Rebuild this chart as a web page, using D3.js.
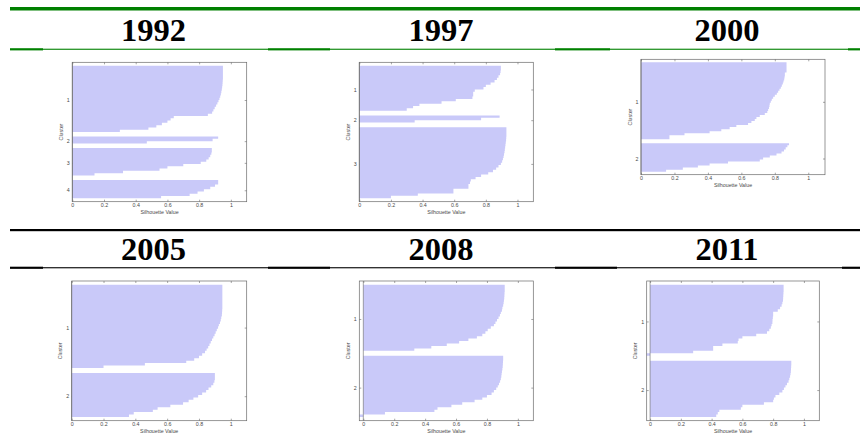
<!DOCTYPE html>
<html>
<head>
<meta charset="utf-8">
<script src="https://cdn.jsdelivr.net/npm/d3@7/dist/d3.min.js"></script>
<style>
  html, body { margin: 0; padding: 0; background: #fff; }
  svg { display: block; }
</style>
</head>
<body>
<svg id="chart" width="860" height="437"></svg>
<script>
// ---- Data: silhouette values per cluster, sorted from high to low ----
const years = ["1992", "1997", "2000", "2005", "2008", "2011"];

const sil1992 = [
  [0.95, 0.95, 0.95, 0.95, 0.95, 0.95, 0.949, 0.948, 0.947, 0.945, 0.943, 0.94, 0.937, 0.933, 0.928,
   0.922, 0.915, 0.907, 0.898, 0.89, 0.882, 0.855, 0.64, 0.62, 0.6, 0.565, 0.53, 0.48, 0.3],
  [0.92, 0.885, 0.47],
  [0.88, 0.88, 0.877, 0.87, 0.86, 0.845, 0.81, 0.70, 0.6, 0.55, 0.32, 0.14],
  [0.92, 0.92, 0.9, 0.87, 0.83, 0.79, 0.74, 0.56]
];

const sil1997 = [
  [0.895, 0.895, 0.893, 0.89, 0.88, 0.87, 0.855, 0.83, 0.8, 0.785, 0.73, 0.72, 0.72, 0.715, 0.61,
   0.52, 0.38, 0.34, 0.3],
  [0.887, 0.77, 0.35],
  [0.93, 0.93, 0.93, 0.93, 0.929, 0.928, 0.926, 0.924, 0.922, 0.92, 0.918, 0.915, 0.912, 0.908, 0.903,
   0.895, 0.88, 0.865, 0.845, 0.815, 0.77, 0.735, 0.705, 0.70, 0.69, 0.69, 0.595, 0.595, 0.37, 0.2]
];

const sil2000 = [
  [0.87, 0.87, 0.87, 0.87, 0.87, 0.86, 0.86, 0.858, 0.856, 0.852, 0.848, 0.842, 0.836, 0.828, 0.82,
   0.812, 0.8, 0.79, 0.782, 0.776, 0.77, 0.768, 0.765, 0.76, 0.755, 0.74, 0.71, 0.69, 0.68, 0.66,
   0.64, 0.57, 0.53, 0.48, 0.41, 0.26, 0.17, 0.17],
  [0.885, 0.875, 0.865, 0.855, 0.84, 0.81, 0.77, 0.73, 0.71, 0.52, 0.41, 0.34, 0.25, 0.15]
];

const sil2005 = [
  [0.947, 0.947, 0.947, 0.947, 0.947, 0.947, 0.947, 0.947, 0.947, 0.947, 0.946, 0.945, 0.944, 0.94,
   0.937, 0.932, 0.925, 0.92, 0.912, 0.905, 0.898, 0.89, 0.882, 0.874, 0.866, 0.858, 0.848, 0.838,
   0.82, 0.80, 0.77, 0.72, 0.46, 0.2],
  [0.9, 0.9, 0.9, 0.897, 0.89, 0.877, 0.86, 0.845, 0.82, 0.795, 0.765, 0.735, 0.70, 0.62, 0.54,
   0.51, 0.39, 0.36]
];

const sil2008 = [
  [0.915, 0.915, 0.915, 0.914, 0.913, 0.912, 0.91, 0.908, 0.905, 0.9, 0.897, 0.89, 0.884, 0.875,
   0.865, 0.855, 0.845, 0.825, 0.805, 0.79, 0.77, 0.735, 0.68, 0.62, 0.54, 0.44, 0.33],
  [0.905, 0.905, 0.904, 0.903, 0.902, 0.9, 0.897, 0.895, 0.893, 0.89, 0.885, 0.878, 0.87, 0.86,
   0.845, 0.83, 0.8, 0.77, 0.72, 0.64, 0.57, 0.48, 0.46, 0.14, -0.026]
];

const sil2011 = [
  [0.868, 0.868, 0.868, 0.867, 0.866, 0.865, 0.864, 0.86, 0.855, 0.845, 0.83, 0.8, 0.8, 0.798,
   0.796, 0.795, 0.79, 0.785, 0.775, 0.76, 0.69, 0.6, 0.575, 0.57, 0.47, 0.41, 0.41, 0.28, -0.022],
  [0.918, 0.918, 0.917, 0.916, 0.915, 0.913, 0.91, 0.905, 0.9, 0.89, 0.88, 0.87, 0.86, 0.84,
   0.815, 0.805, 0.8, 0.74, 0.6, 0.59, 0.45, 0.44, 0.43]
];

const xTickValues = [0, 0.2, 0.4, 0.6, 0.8, 1];
const xTickLabels = ["0", "0.2", "0.4", "0.6", "0.8", "1"];
const xAxisTitle = "Silhouette Value";
const yAxisTitle = "Cluster";

// ---- Layout ----
const svg = d3.select("#chart");
const BAR_FILL = "#c9c9f9";
const AXIS_COLOR = "#6a6a6a";
const TEXT_COLOR = "#4a4a4a";
const SMALL_FONT = "Liberation Sans, Arial, Helvetica, sans-serif";

// table rules: row 1 in green, row 2 in black
const rows = [
  { color: "#008000", top: [7, 3.5], mid: 48.3, thin: 48.7, thick: [[10, 43], [268, 330], [555, 610], [848, 860]], baseline: 41 },
  { color: "#000000", top: [229, 2.2], mid: 266.7, thin: 267.2, thick: [[10, 43], [268, 330], [555, 617], [842, 860]], baseline: 260 }
];
const colCenters = [153.5, 441, 727];

rows.forEach((r, ri) => {
  svg.append("rect").attr("x", 10).attr("y", r.top[0]).attr("width", 850).attr("height", r.top[1]).attr("fill", r.color);
  svg.append("rect").attr("x", 10).attr("y", r.thin).attr("width", 850).attr("height", 1.1).attr("fill", r.color);
  r.thick.forEach(([a, b]) => {
    svg.append("rect").attr("x", a).attr("y", r.mid).attr("width", b - a).attr("height", 2.1).attr("fill", r.color);
  });
  colCenters.forEach((cx, ci) => {
    svg.append("text")
      .attr("x", cx).attr("y", r.baseline)
      .attr("text-anchor", "middle")
      .attr("font-family", "Liberation Serif, Times New Roman, serif")
      .attr("font-weight", "bold")
      .attr("font-size", 32.5)
      .attr("fill", "#000")
      .text(years[ri * 3 + ci]);
  });
});

// plot boxes: [left, top, right, bottom]
const panels = [
  { data: sil1992, box: [72.3, 62.3, 246.7, 201.7] },
  { data: sil1997, box: [359.3, 62.3, 533.3, 201.7] },
  { data: sil2000, box: [641, 59.3, 825, 174.7] },
  { data: sil2005, box: [71.7, 281, 246.7, 420.7] },
  { data: sil2008, box: [359.3, 281, 533.3, 420.7] },
  { data: sil2011, box: [646.7, 281, 819.3, 420.7] }
];

function styleAxis(sel) {
  sel.select(".domain").remove();
  sel.selectAll(".tick line").attr("stroke", AXIS_COLOR).attr("stroke-width", 0.6);
  sel.selectAll(".tick text")
    .attr("fill", TEXT_COLOR)
    .attr("font-family", SMALL_FONT)
    .attr("font-size", 5.3);
}

function drawPanel(p) {
  const [x0, y0, x1, y1] = p.box;
  const all = p.data.flat();
  const xMin = Math.min(0, d3.min(all));
  const x = d3.scaleLinear().domain([xMin, 1.1]).range([x0, x1]);

  // bar positions: clusters separated by two empty slots, as in a silhouette plot
  const space = 2;
  let pos = space;
  const bars = [];
  const tickPos = [];
  const tickLab = [];
  p.data.forEach((cl, i) => {
    const a = pos + 1;
    cl.forEach((v, j) => bars.push({ p: a + j, v }));
    tickPos.push(a + cl.length / 2);
    tickLab.push(String(i + 1));
    pos += cl.length + space;
  });
  const y = d3.scaleLinear().domain([1, pos]).range([y0, y1]);

  const g = svg.append("g");

  // ticks (inward, drawn beneath the bars)
  const axB = d3.axisBottom(x).tickValues(xTickValues).tickFormat((d, i) => xTickLabels[i])
    .tickSizeInner(-2).tickSizeOuter(0).tickPadding(2);
  g.append("g").attr("transform", `translate(0,${y1})`).call(axB).call(styleAxis);

  const axT = d3.axisTop(x).tickValues(xTickValues).tickFormat("")
    .tickSizeInner(-2).tickSizeOuter(0);
  g.append("g").attr("transform", `translate(0,${y0})`).call(axT).call(styleAxis);

  const axL = d3.axisLeft(y).tickValues(tickPos).tickFormat((d, i) => tickLab[i])
    .tickSizeInner(-2).tickSizeOuter(0).tickPadding(2.5);
  g.append("g").attr("transform", `translate(${x0},0)`).call(axL).call(styleAxis);

  const axR = d3.axisRight(y).tickValues(tickPos).tickFormat("")
    .tickSizeInner(-2).tickSizeOuter(0);
  g.append("g").attr("transform", `translate(${x1},0)`).call(axR).call(styleAxis);

  // bars as one path so neighbouring bars join without seams
  const path = d3.path();
  bars.forEach(b => {
    const xa = x(Math.min(0, b.v)), xb = x(Math.max(0, b.v));
    const ya = y(b.p - 0.5), yb = y(b.p + 0.5);
    path.rect(xa, ya, xb - xa, yb - ya);
  });
  g.append("path").attr("d", path.toString()).attr("fill", BAR_FILL);

  // zero baseline
  g.append("line")
    .attr("x1", x(0)).attr("x2", x(0)).attr("y1", y0).attr("y2", y1)
    .attr("stroke", AXIS_COLOR).attr("stroke-width", 0.6);

  // axes box
  g.append("rect")
    .attr("x", x0).attr("y", y0).attr("width", x1 - x0).attr("height", y1 - y0)
    .attr("fill", "none").attr("stroke", AXIS_COLOR).attr("stroke-width", 0.7);

  // axis titles
  g.append("text")
    .attr("x", (x0 + x1) / 2).attr("y", y1 + 11.8)
    .attr("text-anchor", "middle")
    .attr("font-family", SMALL_FONT).attr("font-size", 5.3).attr("fill", TEXT_COLOR)
    .text(xAxisTitle);

  g.append("text")
    .attr("transform", `translate(${x0 - 9.5},${(y0 + y1) / 2}) rotate(-90)`)
    .attr("text-anchor", "middle")
    .attr("font-family", SMALL_FONT).attr("font-size", 5.3).attr("fill", TEXT_COLOR)
    .text(yAxisTitle);
}

panels.forEach(drawPanel);
</script>
</body>
</html>
